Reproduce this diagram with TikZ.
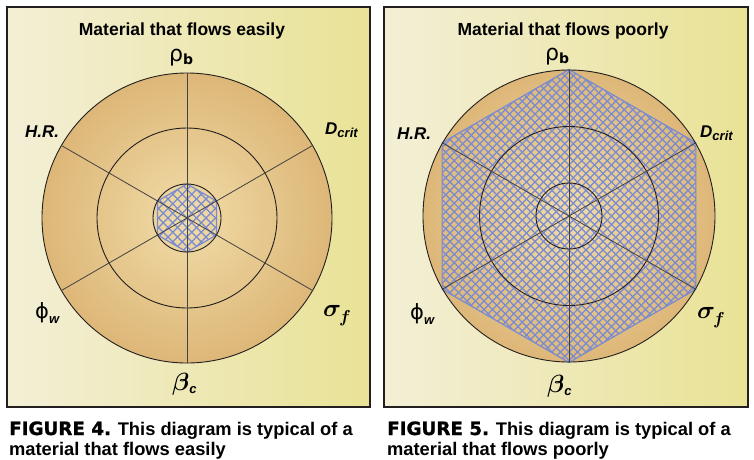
\documentclass[tikz,border=0pt]{standalone}
\usepackage{fontspec}
\setmainfont{Liberation Sans}
\newfontface\heavyfont[FakeBold=1.2]{DejaVu Sans Bold}
\newfontfamily\greekfont{DejaVu Sans}
\definecolor{framecol}{RGB}{35,31,32}
\definecolor{bgleft}{RGB}{243,239,214}
\definecolor{bgmid}{RGB}{240,233,166}
\definecolor{bgright}{RGB}{233,226,150}
\definecolor{tanin}{RGB}{241,220,168}
\definecolor{tanout}{RGB}{221,183,120}
\definecolor{hatchblue}{RGB}{120,138,210}
\newcommand{\lsub}[2]{\raisebox{#1}{\fontsize{13}{13}\selectfont\bfseries\itshape #2}}
\newcommand{\bgreek}[2]{{\fontsize{#1}{#1}\selectfont\boldmath$#2$}}

\begin{document}
\begin{tikzpicture}[x=1pt,y=-1pt,
  ring/.style={draw=framecol,line width=0.9pt},
  spoke/.style={draw=framecol!85,line width=0.8pt},
  hatch/.style={draw=hatchblue,line width=1.2pt},
  lbl/.style={inner sep=0pt,anchor=base west},
  ttl/.style={inner sep=0pt,anchor=base,font=\fontsize{17.5}{20}\selectfont\bfseries},
  capline/.style={inner sep=0pt,anchor=base west,font=\fontsize{18.3}{20}\selectfont\bfseries}]
  \useasboundingbox[fill=white] (0,0) rectangle (754,459);

  % --- panel 4: material that flows easily
  \shade[left color=bgleft,middle color=bgmid,right color=bgright] (7,7) rectangle (370,407);
  \begin{scope}[shift={(187,218)}]
    \shade[inner color=tanin,outer color=tanout] (0,0) circle (145);
    % hatched hexagon
    \begin{scope}
      \clip (90:34) -- (30:34) -- (-30:34) -- (-90:34) -- (210:34) -- (150:34) -- cycle;
      \foreach \d in {-85.5,-76,...,86} {
        \draw[hatch] (\d-60,-60) -- (\d+60,60);
        \draw[hatch] (\d-60,60) -- (\d+60,-60);
      }
    \end{scope}
    \draw[hatch] (90:34) -- (30:34) -- (-30:34) -- (-90:34) -- (210:34) -- (150:34) -- cycle;
    % rings and spokes
    \draw[ring] (0,0) circle (145);
    \draw[ring] (0,0) circle (90);
    \draw[ring] (0,0) circle (34);
    \foreach \a in {30,90,...,330} \draw[spoke] (0,0) -- (\a:145);
  \end{scope}
  \draw[framecol,line width=2pt] (7,7) rectangle (370,407);
  % labels
  \node[ttl] (ttl4) at (182,35) {Material that flows easily};
  \node[lbl] (rho4) at (169,61) {\fontsize{22}{22}\greekfont ρ\raisebox{-3pt}{\fontsize{14}{14}\selectfont\bfseries b}};
  \node[lbl] (hr4) at (25,137) {\fontsize{17}{17}\selectfont\bfseries\itshape H.R.};
  \node[lbl] (dcrit4) at (325,134) {{\fontsize{17}{17}\selectfont\bfseries\itshape D}\lsub{-3pt}{crit}};
  \node[lbl] (phi4) at (35,318) {{\fontsize{21}{21}\greekfont ϕ}\lsub{-5pt}{w}};
  \node[lbl] (sig4) at (323,316) {\bgreek{27}{\sigma}\hspace{-2pt}\raisebox{-6pt}{\bgreek{18}{f}}};
  \node[lbl] (beta4) at (172,390) {\bgreek{25}{\beta}\lsub{-3pt}{c}};
  \node[capline] (cap4a) at (9,435) {{\heavyfont FIGURE 4.} This diagram is typical of a};
  \node[capline] (cap4b) at (9,455) {material that flows easily};

  % --- panel 5: material that flows poorly
  \shade[left color=bgleft,middle color=bgmid,right color=bgright] (384,7) rectangle (748,407);
  \begin{scope}[shift={(569,216)}]
    \shade[inner color=tanin,outer color=tanout] (0,0) circle (146);
    % hatched hexagon
    \begin{scope}
      \clip (90:146.5) -- (30:146.5) -- (-30:146.5) -- (-90:146.5) -- (210:146.5) -- (150:146.5) -- cycle;
      \foreach \d in {-212.5,-204,...,213} {
        \draw[hatch] (\d-160,-160) -- (\d+160,160);
        \draw[hatch] (\d-160,160) -- (\d+160,-160);
      }
    \end{scope}
    \draw[hatch] (90:146.5) -- (30:146.5) -- (-30:146.5) -- (-90:146.5) -- (210:146.5) -- (150:146.5) -- cycle;
    % rings and spokes
    \draw[ring] (0,0) circle (146);
    \draw[ring] (0,0) circle (89.5);
    \draw[ring] (0,0) circle (33);
    \foreach \a in {30,90,...,330} \draw[spoke] (0,0) -- (\a:146);
  \end{scope}
  \draw[framecol,line width=2pt] (384,7) rectangle (748,407);
  % labels
  \node[ttl] (ttl5) at (563,35) {Material that flows poorly};
  \node[lbl] (rho5) at (545,60) {\fontsize{22}{22}\greekfont ρ\raisebox{-3pt}{\fontsize{14}{14}\selectfont\bfseries b}};
  \node[lbl] (hr5) at (397,139) {\fontsize{17}{17}\selectfont\bfseries\itshape H.R.};
  \node[lbl] (dcrit5) at (700,137) {{\fontsize{17}{17}\selectfont\bfseries\itshape D}\lsub{-3pt}{crit}};
  \node[lbl] (phi5) at (410,319) {{\fontsize{21}{21}\greekfont ϕ}\lsub{-5pt}{w}};
  \node[lbl] (sig5) at (697,318) {\bgreek{27}{\sigma}\hspace{-2pt}\raisebox{-6pt}{\bgreek{18}{f}}};
  \node[lbl] (beta5) at (547,392) {\bgreek{25}{\beta}\lsub{-3pt}{c}};
  \node[capline] (cap5a) at (387,435) {{\heavyfont FIGURE 5.} This diagram is typical of a};
  \node[capline] (cap5b) at (387,455) {material that flows poorly};
\end{tikzpicture}
\end{document}
